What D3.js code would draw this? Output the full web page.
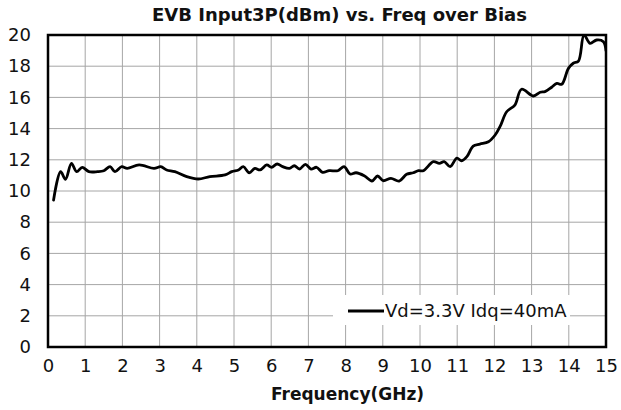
<!DOCTYPE html>
<html>
<head>
<meta charset="utf-8">
<script src="https://cdn.jsdelivr.net/npm/d3@7"></script>
<style>
html,body{margin:0;padding:0;background:#fff;}
svg{display:block;font-family:"DejaVu Sans",sans-serif;}
</style>
</head>
<body>
<svg id="chart" width="621" height="410"></svg>
<script>
const freq = [0.15,0.34,0.47,0.63,0.77,0.92,1.10,1.33,1.50,1.67,1.80,1.98,2.13,2.45,2.85,3.03,3.19,3.41,3.73,4.04,4.35,4.76,4.94,5.12,5.25,5.41,5.56,5.70,5.88,6.01,6.16,6.31,6.49,6.62,6.76,6.92,7.07,7.22,7.38,7.56,7.79,7.96,8.12,8.28,8.50,8.71,8.86,9.01,9.22,9.44,9.64,9.82,9.96,10.09,10.36,10.52,10.65,10.81,10.99,11.12,11.26,11.43,11.61,11.84,12.02,12.15,12.33,12.55,12.73,13.05,13.23,13.36,13.54,13.68,13.81,13.99,14.12,14.26,14.41,14.57,14.75,14.93,15.0];
const ip3 = [9.42,11.24,10.75,11.77,11.24,11.52,11.24,11.24,11.3,11.56,11.24,11.56,11.45,11.67,11.45,11.56,11.35,11.24,10.92,10.77,10.92,11.03,11.24,11.35,11.56,11.17,11.45,11.35,11.67,11.52,11.73,11.56,11.45,11.62,11.41,11.71,11.41,11.52,11.2,11.3,11.3,11.56,11.09,11.17,10.98,10.64,10.96,10.66,10.81,10.64,11.07,11.17,11.3,11.3,11.88,11.77,11.88,11.56,12.1,11.94,12.2,12.88,13.01,13.16,13.59,14.12,15.08,15.51,16.52,16.09,16.33,16.37,16.65,16.90,16.84,17.86,18.19,18.33,20.0,19.47,19.68,19.57,19.0];
const xTicks = [0,1,2,3,4,5,6,7,8,9,10,11,12,13,14,15];
const yTicks = [0,2,4,6,8,10,12,14,16,18,20];
const seriesName = "Vd=3.3V Idq=40mA";
const titleText = "EVB Input3P(dBm) vs. Freq over Bias";
const xLabel = "Frequency(GHz)";

const svg = d3.select("#chart");
const L = 48, R = 606, T = 35, B = 347;
const x = d3.scaleLinear().domain([0,15]).range([L,R]);
const y = d3.scaleLinear().domain([0,20]).range([B,T]);

// grid
svg.append("g").selectAll("line.v").data(xTicks).join("line")
  .attr("x1",d=>x(d)).attr("x2",d=>x(d)).attr("y1",T).attr("y2",B)
  .attr("stroke","#a6a6a6").attr("stroke-width",1);
svg.append("g").selectAll("line.h").data(yTicks).join("line")
  .attr("x1",L).attr("x2",R).attr("y1",d=>y(d)).attr("y2",d=>y(d))
  .attr("stroke","#a6a6a6").attr("stroke-width",1);

// axes via d3 (labels only)
const xAxis = svg.append("g").attr("transform",`translate(0,${B})`)
  .call(d3.axisBottom(x).tickValues(xTicks).tickSize(0).tickPadding(12).tickFormat(d3.format("d")));
const yAxis = svg.append("g").attr("transform",`translate(${L},0)`)
  .call(d3.axisLeft(y).tickValues(yTicks).tickSize(0).tickPadding(17).tickFormat(d3.format("d")));
[xAxis,yAxis].forEach(a=>{
  a.select(".domain").remove();
  a.selectAll("text").attr("font-family","DejaVu Sans").attr("font-size",18).attr("fill","#111");
});

// legend background
svg.append("rect").attr("x",333).attr("y",295).attr("width",237).attr("height",30).attr("fill","#fff");

// line
svg.append("defs").append("clipPath").attr("id","clip")
  .append("rect").attr("x",L).attr("y",T-1).attr("width",R-L).attr("height",B-T+1);
const data = freq.map((f,i)=>[f,ip3[i]]);
svg.append("path").datum(data)
  .attr("clip-path","url(#clip)")
  .attr("fill","none").attr("stroke","#000").attr("stroke-width",2.8)
  .attr("stroke-linejoin","round").attr("stroke-linecap","round")
  .attr("d",d3.line().x(d=>x(d[0])).y(d=>y(d[1])).curve(d3.curveCatmullRom.alpha(0.5)));

// frame
svg.append("rect").attr("x",L).attr("y",T).attr("width",R-L).attr("height",B-T)
  .attr("fill","none").attr("stroke","#000").attr("stroke-width",2.5);

// legend
svg.append("line").attr("x1",348).attr("x2",384).attr("y1",311).attr("y2",311)
  .attr("stroke","#000").attr("stroke-width",2.8);
svg.append("text").attr("x",385).attr("y",317).attr("font-size",18).attr("fill","#111")
  .text(seriesName);

// title
svg.append("text").attr("x",152).attr("y",21).attr("font-size",18).attr("font-weight","bold")
  .attr("fill","#111").text(titleText);

// x label
svg.append("text").attr("x",271).attr("y",400).attr("font-size",17).attr("font-weight","bold")
  .attr("fill","#111").text(xLabel);
</script>
</body>
</html>
